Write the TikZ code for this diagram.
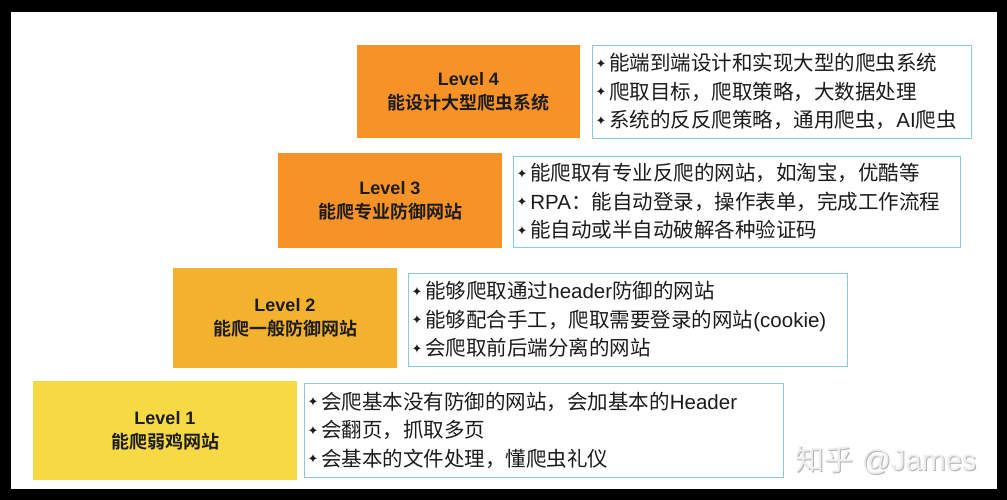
\documentclass[tikz,border=0pt]{standalone}
\usepackage{fontspec}
\setmainfont{Liberation Sans}
\newfontfamily\cjk[BoldFont={Noto Sans CJK SC Bold}]{Noto Sans CJK SC}
\newfontfamily\djv{DejaVu Sans}
\newcommand{\mybul}{\raisebox{2.5pt}{\djv\fontsize{13}{13}\selectfont ✦}\hspace{3pt}}
\newcommand{\zh}[1]{{\cjk #1}}
\definecolor{lvA}{RGB}{247,146,38}
\definecolor{lvB}{RGB}{243,178,46}
\definecolor{lvC}{RGB}{247,217,68}
\definecolor{bordc}{RGB}{140,200,216}
\definecolor{txtc}{RGB}{28,28,28}
\definecolor{wmlight}{RGB}{238,238,238}
\definecolor{wmdark}{RGB}{180,180,180}
\begin{document}
\begin{tikzpicture}[x=1pt,y=-1pt,
  lvl/.style={fill=#1, draw=none, align=center, text=txtc, inner sep=0pt,
    font=\fontsize{18}{24}\selectfont\bfseries},
  tbox/.style={draw=bordc, line width=0.9pt, fill=white, align=left, text=txtc,
    inner xsep=3pt, inner ysep=0pt, anchor=center,
    font=\fontsize{20.5}{28.5}\selectfont}]
\fill[black] (0,0) rectangle (1007,500);
\fill[white] (10.5,12.5) rectangle (997,489);
% level boxes
\node[lvl=lvA, minimum width=223pt, minimum height=93pt] (L4) at (468.5,91.5)
  {Level 4\\\zh{能设计大型爬虫系统}};
\node[lvl=lvA, minimum width=224pt, minimum height=95pt] (L3) at (390,200.5)
  {Level 3\\\zh{能爬专业防御网站}};
\node[lvl=lvB, minimum width=224pt, minimum height=100pt] (L2) at (285,318)
  {Level 2\\\zh{能爬一般防御网站}};
\node[lvl=lvC, minimum width=264pt, minimum height=99pt] (L1) at (165,430.5)
  {Level 1\\\zh{能爬弱鸡网站}};
% description boxes
\node[tbox, minimum width=379pt, minimum height=93pt, text width=372pt] (T4) at (781.5,91.5)
  {\mybul\zh{能端到端设计和实现大型的爬虫系统}\\
   \mybul\zh{爬取目标，爬取策略，大数据处理}\\
   \mybul\zh{系统的反反爬策略，通用爬虫，}AI\zh{爬虫}};
\node[tbox, minimum width=447pt, minimum height=91pt, text width=440pt] (T3) at (736.5,201.5)
  {\mybul\zh{能爬取有专业反爬的网站，如淘宝，优酷等}\\
   \mybul RPA\zh{：能自动登录，操作表单，完成工作流程}\\
   \mybul\zh{能自动或半自动破解各种验证码}};
\node[tbox, minimum width=439pt, minimum height=93pt, text width=432pt] (T2) at (627.5,319.5)
  {\mybul\zh{能够爬取通过}header\zh{防御的网站}\\
   \mybul\zh{能够配合手工，爬取需要登录的网站}(cookie)\\
   \mybul\zh{会爬取前后端分离的网站}};
\node[tbox, minimum width=479pt, minimum height=94pt, text width=472pt] (T1) at (543.5,430)
  {\mybul\zh{会爬基本没有防御的网站，会加基本的}Header\\
   \mybul\zh{会翻页，抓取多页}\\
   \mybul\zh{会基本的文件处理，懂爬虫礼仪}};
% watermark
\node[text=wmdark, font=\fontsize{29}{29}\selectfont, anchor=center] (WMs) at (887,461)
  {\zh{知乎} @James};
\node[text=wmlight, font=\fontsize{29}{29}\selectfont, anchor=center] (WM) at (886,460)
  {\zh{知乎} @James};
\end{tikzpicture}
\end{document}
